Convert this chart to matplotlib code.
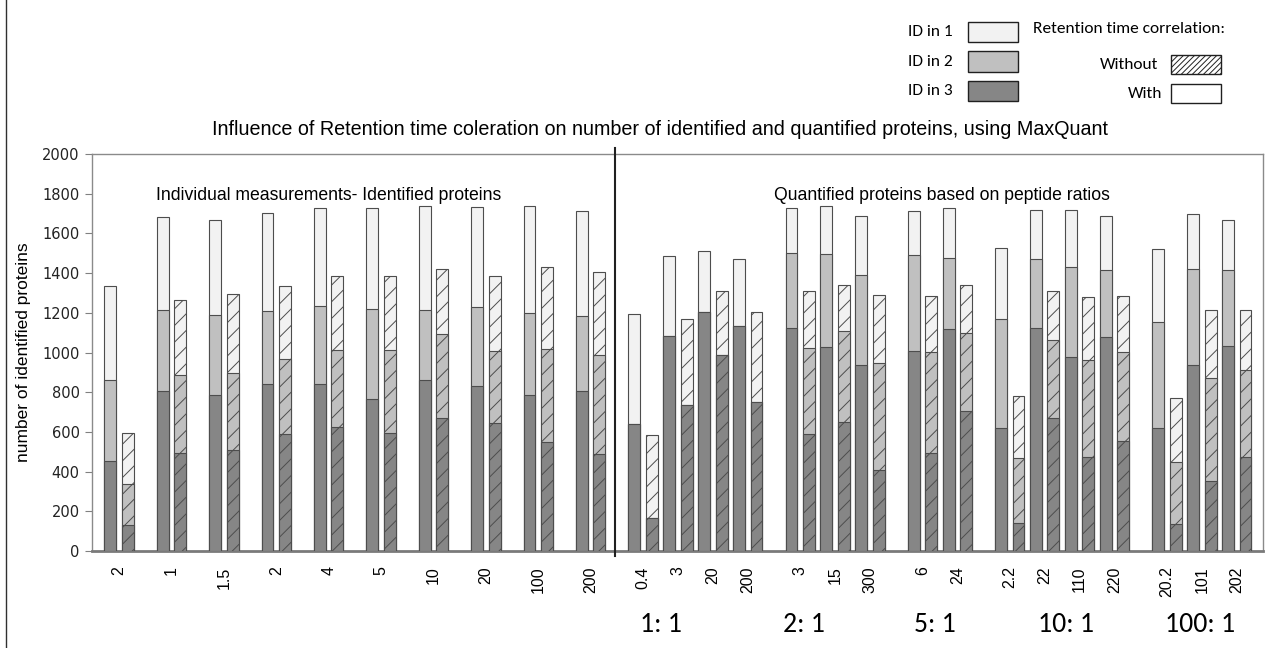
import numpy as np
import matplotlib
matplotlib.use("Agg")
import matplotlib.pyplot as plt
from matplotlib.patches import Rectangle
from matplotlib.lines import Line2D

# cumulative tops of stacked bars: [ID in 3, ID in 2, ID in 1]
# left block: individual measurements
left_labels = ["2", "1", "1.5", "2", "4", "5", "10", "20", "100", "200"]
left_with = [
    [452, 860, 1336], [807, 1212, 1682], [785, 1188, 1666], [840, 1210, 1701],
    [840, 1232, 1726], [765, 1220, 1728], [864, 1213, 1739], [830, 1230, 1733],
    [785, 1197, 1739], [805, 1182, 1713],
]
left_without = [
    [129, 336, 597], [496, 889, 1267], [511, 897, 1297], [587, 965, 1336],
    [625, 1012, 1388], [592, 1012, 1387], [672, 1091, 1420], [645, 1007, 1383],
    [550, 1017, 1432], [487, 988, 1408],
]

# right block: quantified proteins, grouped by mixing ratio
groups = ["1: 1", "2: 1", "5: 1", "10: 1", "100: 1"]
right_labels = [
    ["0.4", "3", "20", "200"],
    ["3", "15", "300"],
    ["6", "24"],
    ["2.2", "22", "110", "220"],
    ["20.2", "101", "202"],
]
right_with = [
    [[642, 642, 1193], [1082, 1082, 1487], [1205, 1205, 1513], [1133, 1133, 1471]],
    [[1121, 1499, 1726], [1029, 1497, 1736], [938, 1390, 1687]],
    [[1007, 1489, 1714], [1116, 1474, 1726]],
    [[620, 1170, 1528], [1121, 1469, 1719], [978, 1430, 1719], [1077, 1415, 1689]],
    [[618, 1155, 1524], [939, 1420, 1697], [1034, 1415, 1666]],
]
right_without = [
    [[168, 168, 583], [738, 738, 1168], [987, 987, 1311], [753, 753, 1205]],
    [[590, 1024, 1311], [649, 1108, 1339], [407, 946, 1289]],
    [[494, 1005, 1286], [704, 1096, 1339]],
    [[141, 471, 783], [671, 1061, 1309], [474, 960, 1281], [553, 1002, 1287]],
    [[134, 450, 771], [355, 874, 1215], [472, 914, 1212]],
]

c_id = ["#868686", "#c0c0c0", "#f2f2f2"]  # ID in 3, ID in 2, ID in 1
edge = "#4d4d4d"
plt.rcParams["hatch.color"] = "#3a3a3a"
plt.rcParams["hatch.linewidth"] = 0.7

fig = plt.figure(figsize=(12.71, 6.48), dpi=100)
ax = fig.add_axes([0.0724, 0.1497, 0.9213, 0.6126])

W = 0.68


def stack(x, tops, hatch):
    # draw tallest first, then overlay lower levels
    for lvl in (2, 1, 0):
        ax.bar(x, tops[lvl], width=W, color=c_id[lvl], edgecolor=edge,
               linewidth=0.8, hatch=hatch, zorder=2 + (2 - lvl))


# slot positions
tick_pos, tick_lab = [], []
x = 0
for lab, w, wo in zip(left_labels, left_with, left_without):
    stack(x, w, None)
    stack(x + 1, wo, "//")
    tick_pos.append(x + 0.5)
    tick_lab.append(lab)
    x += 3

group_x = [31.5, 39.7, 47.2, 54.7, 62.4]
for labs, ws, wos in zip(right_labels, right_with, right_without):
    for lab, w, wo in zip(labs, ws, wos):
        stack(x, w, None)
        stack(x + 1, wo, "//")
        tick_pos.append(x + 0.5)
        tick_lab.append(lab)
        x += 2
    x += 1

ax.set_xlim(-1.05, 66.0)
ax.set_ylim(0, 2000)
ax.set_yticks(np.arange(0, 2001, 200))
ax.set_xticks(tick_pos)
ax.set_xticklabels(tick_lab, rotation=90, fontsize=11.5, family="Liberation Sans")
ax.tick_params(axis="x", length=0, pad=11)
ax.tick_params(axis="y", direction="out", length=5, color="#808080",
               labelsize=10.5, pad=4, labelcolor="#222222")
for s in ax.spines.values():
    s.set_color("#8a8a8a")
    s.set_linewidth(1.0)
ax.spines["bottom"].set_linewidth(2.0)
ax.spines["bottom"].set_color("#7a7a7a")
ax.set_ylabel("number of identified proteins", fontsize=12.5, labelpad=8,
              family="Liberation Sans")

# divider between blocks
ax.plot([28.9, 28.9], [-25, 2030], color="#202020", lw=1.5, clip_on=False, zorder=6)

ax.text(2.6, 1790, "Individual measurements- Identified proteins", fontsize=12.7,
        family=["Liberation Sans Narrow", "Liberation Sans"], va="center")
ax.text(38.0, 1790, "Quantified proteins based on peptide ratios", fontsize=12.7,
        family=["Liberation Sans Narrow", "Liberation Sans"], va="center")

for g, gx in zip(groups, group_x):
    ax.text(gx, -370, g, fontsize=20, family=["Carlito", "Lato"], ha="center",
            va="center", clip_on=False)

fig.text(0.519, 0.80, "Influence of Retention time coleration on number of identified "
         "and quantified proteins, using MaxQuant", fontsize=14.2,
         family="Liberation Sans", ha="center", va="center")

# left page border
fig.add_artist(Line2D([0.0045, 0.0045], [0, 1], color="#303030", lw=1.0))

# legend drawn as boxes in figure pixels
H = 648.0


def box(x0, y0, x1, y1, fc, hatch=None):
    fig.add_artist(Rectangle((x0 / 1271, 1 - y1 / H), (x1 - x0) / 1271, (y1 - y0) / H,
                             facecolor=fc, edgecolor="#202020", lw=1.0, hatch=hatch,
                             transform=fig.transFigure))


def ftxt(xp, yp, s, ha="left"):
    fig.text(xp / 1271, 1 - yp / H, s, fontsize=12.5, family=["Carlito", "Lato"],
             ha=ha, va="center")


for i, lab in enumerate(["ID in 1", "ID in 2", "ID in 3"]):
    yc = 32 + i * 29.5
    ftxt(953, yc, lab, ha="right")
    box(968, yc - 10, 1018, yc + 10, c_id[2 - i])
ftxt(1033, 29, "Retention time correlation:")
ftxt(1158, 65, "Without", ha="right")
box(1171, 55, 1221, 74, "white", hatch="//////")
ftxt(1162, 94, "With", ha="right")
box(1171, 84, 1221, 103, "white")

fig.savefig("out.png", dpi=100)
